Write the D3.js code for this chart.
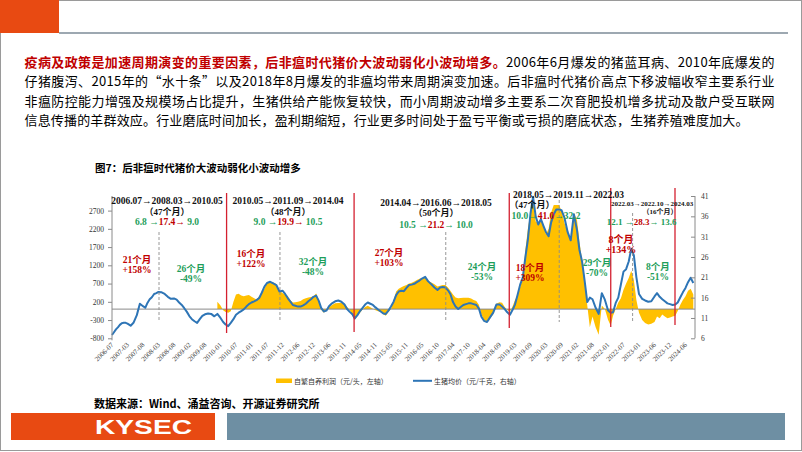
<!DOCTYPE html>
<html><head><meta charset="utf-8">
<script src="https://cdn.jsdelivr.net/npm/d3@7"></script>
<style>body{margin:0;background:#fff}svg{display:block}</style>
</head><body><svg id="c" width="802" height="452"></svg>
<script>
// ---------- DATA ----------
const labelMonths = ["2006-07","2007-03","2007-08","2008-03","2008-08","2009-02","2009-08","2010-01","2010-07","2011-01","2011-07","2011-12","2012-06","2012-12","2013-06","2013-11","2014-05","2014-11","2015-05","2015-11","2016-05","2016-10","2017-04","2017-10","2018-04","2018-09","2019-03","2019-09","2020-03","2020-09","2021-02","2021-08","2022-01","2022-07","2023-01","2023-06","2023-12","2024-06"];
const priceStart = "2006-07", priceEnd = "2024-10";
const priceValues = [
 6.8,7.5,8.2,8.7,9.3,9.7,
 9.8,9.8,9.6,9.1,9.9,11.7,14.5,13.9,13.5,14.7,15.6,16.1,
 16.9,17.1,17.4,17.3,16.9,16.2,15.7,15.8,15.5,14.8,14.2,13.4,
 12.5,11.4,10.7,10.2,9.8,10.7,11.5,11.9,12.1,12.0,11.4,12.0,
 11.0,10.0,9.4,9.0,9.8,10.7,11.8,12.3,12.7,13.1,13.8,14.4,
 14.8,15.1,15.4,15.9,17.2,18.7,19.6,19.9,19.5,19.1,17.5,17.7,
 16.9,15.9,15.1,14.2,14.0,13.8,13.8,14.1,14.5,15.1,15.6,16.2,
 16.5,15.2,13.5,12.6,12.8,13.9,14.6,15.1,15.3,15.0,14.3,13.2,
 12.5,11.9,10.9,11.7,12.7,13.5,14.3,14.8,14.5,14.2,13.6,13.1,
 12.6,12.1,12.0,12.8,13.8,15.0,16.6,17.5,17.7,17.6,18.4,19.1,
 19.2,19.4,19.8,20.2,20.7,21.1,20.0,19.3,18.5,17.9,18.5,18.6,
 18.5,17.8,16.9,14.9,13.8,13.2,13.7,14.2,14.4,14.6,14.6,14.4,
 14.2,13.3,11.3,10.3,10.0,11.2,12.3,14.3,14.3,13.8,13.2,12.4,
 11.8,13.0,14.3,16.7,19.2,20.9,25.8,30.3,36.7,40.8,36.0,34.0,
 35.3,33.6,32.1,31.1,34.5,36.5,37.7,37.7,37.5,35.6,32.1,30.1,
 36.5,32.6,27.8,24.9,20.2,14.9,16.0,15.6,13.5,12.0,17.1,15.5,
 12.9,12.3,12.4,14.7,16.0,19.3,22.4,23.0,24.9,28.0,26.4,21.0,
 16.9,15.7,15.3,15.0,15.1,16.3,17.1,16.2,15.6,15.1,14.6,14.4,
 14.2,14.3,14.8,16.1,17.3,18.4,19.8,20.9,19.6];
const profitStart = "2009-12", profitEnd = "2024-10";
const profitValues = [
 200,
 100,-30,-80,-100,-60,200,400,420,370,350,370,390,
 340,300,260,350,430,550,720,755,730,690,500,440,
 400,360,250,180,190,205,220,270,300,320,330,350,
 430,250,-20,-100,-20,50,110,160,170,170,150,60,
 -20,-180,-290,-190,-100,-10,60,90,50,10,-30,-60,
 -80,-140,-180,-80,0,250,480,560,600,630,660,700,
 720,760,800,830,850,855,780,730,680,620,640,660,
 660,590,500,400,320,300,305,310,310,310,290,250,
 220,110,-150,-300,-340,-250,-140,150,190,175,60,-25,
 -70,80,250,370,600,860,1600,2200,2650,2990,2400,2350,
 2500,2300,2050,2200,2650,2850,2850,2850,2700,2350,2100,1950,
 2650,2440,1850,1350,850,100,-500,-200,-500,-700,100,0,
 -290,-450,-180,0,180,300,530,700,850,1050,800,250,
 -100,-300,-380,-420,-400,-350,-200,-250,-150,-200,-250,-230,
 -200,-180,-50,120,250,350,500,560,400];
const leftTicks = [-800,-300,200,700,1200,1700,2200,2700];
const rightTicks = [6,11,16,21,26,31,36,41];
const boundaryDates = ["2010-03-13","2014-02-21","2018-12-24","2022-02-02","2024-01-29"];
const peakDates = ["2008-03-06","2011-11-06","2017-01-06","2020-08-05","2022-10-17"];
const seriesNames = ["自繁自养利润（元/头，左轴）","生猪均价（元/千克，右轴）"];

// ---------- LAYOUT ----------
const RED = "#C00000", GREEN = "#1E9E5A", BLUE = "#2E75B6", YEL = "#FFC000";
const SERIF = "'Liberation Serif','Noto Sans CJK SC',serif";
const CJK = "'Noto Sans CJK SC','Liberation Serif',sans-serif";
const plot = {x0:112, x1:695, yTop:196, yBot:338.3, lastLabelX:685.5};
const boundaryExt = [[193,333],[193,332],[193,328],[188,327],[188,325]];
const peakExt = [[232,321],[232,320],[232,320],[200,322],[213,322]];

const svg = d3.select("#c");
const pm = d3.timeParse("%Y-%m"), pd = d3.timeParse("%Y-%m-%d");

// frame + header
svg.append("rect").attr("x",0.5).attr("y",0.5).attr("width",801).attr("height",450)
  .attr("fill","#fff").attr("stroke","#9a9a9a");
svg.append("rect").attr("x",0).attr("y",0).attr("width",59).attr("height",33).attr("fill","#E84A12");
svg.append("line").attr("x1",59).attr("x2",788).attr("y1",33).attr("y2",33)
  .attr("stroke","#7d8b97").attr("stroke-width",1.5);

// paragraph
const paraLines = [
  [["疫病及政策是加速周期演变的重要因素，后非瘟时代猪价大波动弱化小波动增多。",RED,700],["2006年6月爆发的猪蓝耳病、2010年底爆发的","#000",400]],
  [["仔猪腹泻、2015年的“水十条”以及2018年8月爆发的非瘟均带来周期演变加速。后非瘟时代猪价高点下移波幅收窄主要系行业","#000",400]],
  [["非瘟防控能力增强及规模场占比提升，生猪供给产能恢复较快，而小周期波动增多主要系二次育肥投机增多扰动及散户受互联网","#000",400]],
  [["信息传播的羊群效应。行业磨底时间加长，盈利期缩短，行业更多时间处于盈亏平衡或亏损的磨底状态，生猪养殖难度加大。","#000",400]]
];
const paraBase = [66.5, 86, 105.5, 124.5], paraLen = [750, 750, 750, 724];
paraLines.forEach((segs,i)=>{
  const t = svg.append("text").attr("x",24.5).attr("y",paraBase[i])
    .attr("font-family",CJK).attr("font-size",13)
    .attr("textLength",paraLen[i]).attr("lengthAdjust","spacing");
  segs.forEach(s=>t.append("tspan").text(s[0]).attr("fill",s[1]).attr("font-weight",s[2]));
});

// chart title
svg.append("text").attr("x",95).attr("y",172).attr("font-family",CJK).attr("font-size",10.5)
  .attr("font-weight",700).text("图7：后非瘟时代猪价大波动弱化小波动增多");

// ---------- SCALES ----------
const step = (plot.lastLabelX - plot.x0)/(labelMonths.length-1);
const x = d3.scaleTime().domain(labelMonths.map(pm)).range(labelMonths.map((d,i)=>plot.x0+i*step));
const yL = d3.scaleLinear().domain([-800,3100]).range([plot.yBot, plot.yTop]);
const yR = d3.scaleLinear().domain([6,41]).range([plot.yBot, plot.yTop]);

const priceMonths = d3.timeMonth.range(pm(priceStart), pm(priceEnd));
const profitMonths = d3.timeMonth.range(pm(profitStart), pm(profitEnd));
const price = priceMonths.map((d,i)=>({d, v:priceValues[i]}));
const profit = profitMonths.map((d,i)=>({d, v:profitValues[i]}));

// profit area
svg.append("path").datum(profit)
  .attr("d", d3.area().x(p=>x(p.d)).y0(yL(0)).y1(p=>yL(p.v)))
  .attr("fill",YEL);

// zero axis line
svg.append("line").attr("x1",plot.x0).attr("x2",plot.x1).attr("y1",yL(0)).attr("y2",yL(0))
  .attr("stroke","#8a8a8a").attr("stroke-width",1);

// price line
svg.append("path").datum(price)
  .attr("d", d3.line().x(p=>x(p.d)).y(p=>yR(p.v)))
  .attr("fill","none").attr("stroke",BLUE).attr("stroke-width",2).attr("stroke-linejoin","round");

// axes
const gl = svg.append("g").attr("transform",`translate(${plot.x0},0)`)
  .call(d3.axisLeft(yL).tickValues(leftTicks).tickSizeInner(4).tickSizeOuter(0).tickPadding(4).tickFormat(d=>d));
const gr = svg.append("g").attr("transform",`translate(${plot.x1},0)`)
  .call(d3.axisRight(yR).tickValues(rightTicks).tickSizeInner(-4).tickSizeOuter(0).tickPadding(6).tickFormat(d=>d));
[gl,gr].forEach(g=>{
  g.select(".domain").attr("stroke","#8a8a8a").attr("d", null);
  g.selectAll(".tick line").attr("stroke","#8a8a8a");
  g.selectAll("text").attr("font-family",SERIF).attr("font-size",7.5).attr("fill","#333");
});
gl.append("line").attr("x1",0).attr("x2",0).attr("y1",plot.yTop).attr("y2",plot.yBot+2).attr("stroke","#8a8a8a");
gr.append("line").attr("x1",0).attr("x2",0).attr("y1",plot.yTop).attr("y2",plot.yBot).attr("stroke","#8a8a8a");
gl.select(".domain").remove(); gr.select(".domain").remove();

// x labels
svg.append("g").selectAll("text").data(labelMonths).join("text")
  .attr("transform",d=>`translate(${x(pm(d))+2},${plot.yBot+7}) rotate(-45)`)
  .attr("text-anchor","end").attr("font-family",SERIF).attr("font-size",7).attr("fill","#444")
  .text(d=>d);

// cycle boundaries and peaks
svg.append("g").selectAll("line").data(boundaryDates).join("line")
  .attr("x1",d=>x(pd(d))).attr("x2",d=>x(pd(d)))
  .attr("y1",(d,i)=>boundaryExt[i][0]).attr("y2",(d,i)=>boundaryExt[i][1])
  .attr("stroke","#D42030").attr("stroke-width",1.3);
svg.append("g").selectAll("line").data(peakDates).join("line")
  .attr("x1",d=>x(pd(d))).attr("x2",d=>x(pd(d)))
  .attr("y1",(d,i)=>peakExt[i][0]).attr("y2",(d,i)=>peakExt[i][1])
  .attr("stroke","#8c8c8c").attr("stroke-width",0.9).attr("stroke-dasharray","3,2");

// annotations
function ann(xp, yp, parts, size, anchor){
  const t = svg.append("text").attr("x",xp).attr("y",yp).attr("font-family",SERIF)
    .attr("font-size",size||9.5).attr("font-weight",700).attr("text-anchor",anchor||"middle");
  parts.forEach(p=>t.append("tspan").text(p[0]).attr("fill",p[1]));
}
const K="#111";
// cycle 1
ann(167,204,[["2006.07→2008.03→2010.05",K]]);
ann(167,214.5,[["（47个月）",K]],9);
ann(167,225,[["6.8 →",GREEN],["17.4→",RED],[" 9.0",GREEN]]);
ann(137,262.5,[["21个月",RED]]); ann(137,272.5,[["+158%",RED]]);
ann(191,271.5,[["26个月",GREEN]]); ann(191,282,[["-49%",GREEN]]);
// cycle 2
ann(288,204,[["2010.05→2011.09→2014.04",K]]);
ann(288,214.5,[["（48个月）",K]],9);
ann(288,225,[["9.0 →",GREEN],["19.9→",RED],[" 10.5",GREEN]]);
ann(251,256.5,[["16个月",RED]]); ann(251,266.5,[["+122%",RED]]);
ann(313,264.5,[["32个月",GREEN]]); ann(313,274.5,[["-48%",GREEN]]);
// cycle 3
ann(436,206,[["2014.04→2016.06→2018.05",K]]);
ann(436,216,[["（50个月）",K]],9);
ann(436,227.5,[["10.5 →",GREEN],["21.2",RED],["→ 10.0",GREEN]]);
ann(389,255.5,[["27个月",RED]]); ann(389,266,[["+103%",RED]]);
ann(482,269.5,[["24个月",GREEN]]); ann(482,280,[["-53%",GREEN]]);
// cycle 4
ann(568.5,197.5,[["2018.05→2019.11→2022.03",K]]);
ann(532,207.5,[["（47个月）",K]],9);
ann(511.5,218.5,[["10.0→",GREEN],["41.0",RED],["→32.2",GREEN]],9.5,"start");
ann(530,271,[["18个月",RED]]); ann(530,281,[["+309%",RED]]);
ann(597,266,[["29个月",GREEN]]); ann(597,276,[["-70%",GREEN]]);
// cycle 5
ann(652,205.5,[["2022.03→2022.10→2024.03",K]],7);
ann(660,214,[["（16个月）",K]],7);
ann(641.5,224.5,[["12.1 →",GREEN],["28.3",RED],["→ 13.6",GREEN]],9);
ann(621,243,[["8个月",RED]],10); ann(621,253,[["+134%",RED]],10);
ann(658,269.5,[["8个月",GREEN]]); ann(658,280,[["-51%",GREEN]]);

// legend
svg.append("rect").attr("x",276).attr("y",378.5).attr("width",16).attr("height",4.5).attr("fill",YEL);
svg.append("text").attr("x",294).attr("y",383.5).attr("font-family",CJK).attr("font-size",7).attr("fill","#333").text(seriesNames[0]);
svg.append("line").attr("x1",413).attr("x2",432).attr("y1",380.8).attr("y2",380.8).attr("stroke",BLUE).attr("stroke-width",2);
svg.append("text").attr("x",434).attr("y",383.5).attr("font-family",CJK).attr("font-size",7).attr("fill","#333").text(seriesNames[1]);

// source
svg.append("text").attr("x",94).attr("y",407.5).attr("font-family",CJK).attr("font-size",11)
  .attr("font-weight",700).text("数据来源：Wind、涌益咨询、开源证券研究所");

// footer
svg.append("rect").attr("x",11).attr("y",413).attr("width",204).attr("height",27).attr("fill","#E84A12");
svg.append("rect").attr("x",227).attr("y",413).attr("width",558).attr("height",27).attr("fill","#6E8FA3");
svg.append("text").attr("x",95).attr("y",434).attr("font-family","'Liberation Sans',Arial,sans-serif")
  .attr("font-size",20).attr("font-weight",700).attr("fill","#fff")
  .attr("textLength",97).attr("lengthAdjust","spacingAndGlyphs").text("KYSEC");
</script></body></html>
